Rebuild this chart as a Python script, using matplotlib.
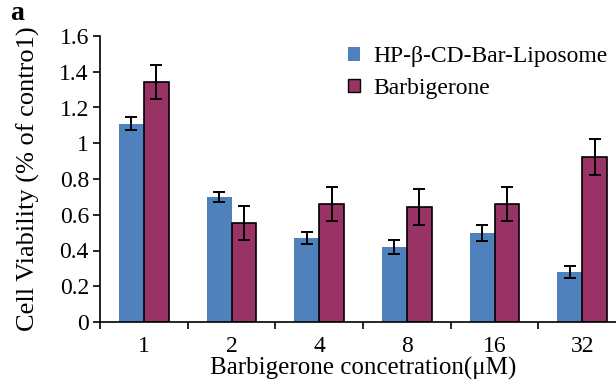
import numpy as np
from matplotlib import pyplot as plt
from matplotlib.patches import Patch

# Data
concentrations = ["1", "2", "4", "8", "16", "32"]
liposome_values = [1.11, 0.70, 0.47, 0.42, 0.50, 0.28]
liposome_errors = [0.035, 0.03, 0.035, 0.04, 0.045, 0.035]
barbigerone_values = [1.34, 0.555, 0.66, 0.645, 0.66, 0.925]
barbigerone_errors = [0.095, 0.095, 0.095, 0.10, 0.095, 0.10]

plt.rcParams['font.family'] = ['Liberation Serif', 'DejaVu Serif']

fig = plt.figure(figsize=(6.16, 3.82), dpi=100)
# axes run from x=100px to past the right edge, y=322px to 36px
ax = fig.add_axes([100 / 616, (382 - 322) / 382, 526 / 616, 286 / 382])

x = np.arange(len(concentrations))
width = 0.285
ax.bar(x - width / 2, liposome_values, width, color="#4F81BD", edgecolor="none",
       yerr=liposome_errors, capsize=4, error_kw=dict(elinewidth=1.4, capthick=1.4, ecolor="black"))
ax.bar(x + width / 2, barbigerone_values, width, color="#993366", edgecolor="black", linewidth=1.2,
       yerr=barbigerone_errors, capsize=4, error_kw=dict(elinewidth=1.4, capthick=1.4, ecolor="black"))

ax.set_xlim(-0.5, len(concentrations) - 0.5)
ax.set_ylim(0, 1.6)
ax.set_yticks(np.arange(0, 1.61, 0.2))
ax.set_yticklabels(["0", "0.2", "0.4", "0.6", "0.8", "1", "1.2", "1.4", "1.6"], fontsize=17)
ax.set_xticks(x)
ax.set_xticklabels(concentrations, fontsize=17)
ax.tick_params(axis="x", length=0, pad=10)
ax.set_xticks(np.arange(-0.5, len(concentrations)), minor=True)
ax.tick_params(axis="x", which="minor", length=5, width=1.2, direction="out")
ax.tick_params(axis="y", length=5, width=1.2, direction="out", pad=3)

for side in ["top", "right"]:
    ax.spines[side].set_visible(False)
for side in ["left", "bottom"]:
    ax.spines[side].set_linewidth(1.2)

ax.set_xlabel("Barbigerone concetration(μM)", fontsize=18, labelpad=0)
ax.set_ylabel("Cell Viability (% of contro1)", fontsize=19, labelpad=14)

handles = [Patch(facecolor="#4F81BD", edgecolor="none", label="HP-β-CD-Bar-Liposome"),
           Patch(facecolor="#993366", edgecolor="black", label="Barbigerone")]
fig.legend(handles=handles, loc="upper left", bbox_to_anchor=(339 / 616, 1 - 37 / 382),
           frameon=False, fontsize=17, handlelength=0.5, handleheight=0.5, handletextpad=0.55,
           labelspacing=0.45, borderaxespad=0)

fig.text(10 / 616, 1 - 14 / 382, "a", fontsize=20, fontweight="bold", va="center")

fig.savefig("out.png", dpi=100)
